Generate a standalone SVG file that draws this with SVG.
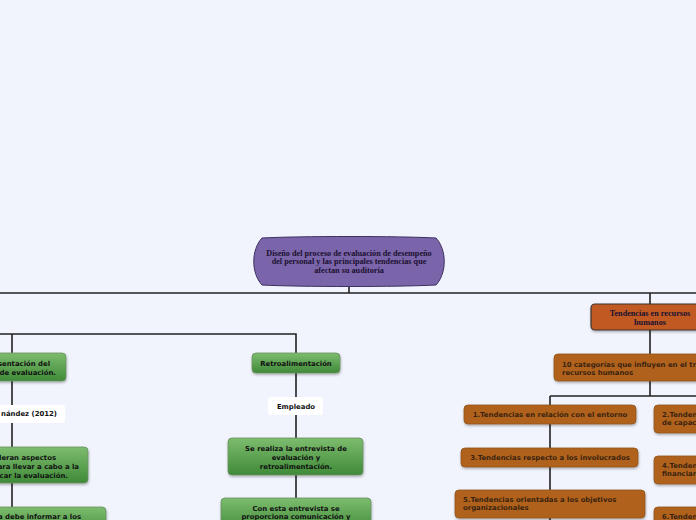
<svg xmlns="http://www.w3.org/2000/svg" width="696" height="520" viewBox="0 0 696 520">
<defs>
<linearGradient id="gGreen" x1="0" y1="0" x2="0" y2="1">
<stop offset="0" stop-color="#7dbc6e"/>
<stop offset="1" stop-color="#3f8a38"/>
</linearGradient>
<filter id="sh" x="-10%" y="-20%" width="120%" height="150%">
<feDropShadow dx="0.5" dy="1.5" stdDeviation="1" flood-color="#000" flood-opacity="0.3"/>
</filter>
</defs>
<style>
.bg{fill:#f1f4fd}
.con{fill:none;stroke:#222;stroke-width:1.6}
.green{fill:url(#gGreen);stroke:#6a8f62;stroke-width:0.8;filter:url(#sh)}
.brown{fill:#b0621f;stroke:#8f5320;stroke-width:0.8;filter:url(#sh)}
.label{fill:#fff}
.t{font-family:"DejaVu Sans",Verdana,sans-serif;font-weight:bold;font-size:6.9px;fill:#111}
.tb{font-family:"DejaVu Sans",Verdana,sans-serif;font-weight:bold;font-size:6.9px;fill:#3a2210}
.s{font-family:"Liberation Serif","Times New Roman",serif;font-weight:bold;font-size:8.2px;fill:#1a1030}
.c{text-anchor:middle}
.e{text-anchor:end}
</style>
<rect class="bg" x="0" y="0" width="696" height="520"/>

<g id="connectors">
<path class="con" d="M349,285 V293 M0,293 H696"/>
<path class="con" d="M0,334 H296 V353 M12,334 V353"/>
<path class="con" d="M12,381 V405 M12,423 V447 M12,483 V507"/>
<path class="con" d="M296,373 V397 M296,415 V438 M296,475 V498"/>
<path class="con" d="M650,293 V304 M650,330 V354 M650,381 V396 M550,396 H696 M550,396 V405"/>
<path class="con" d="M550,424 V448 M550,467 V490 M550,518 V520"/>
</g>

<g id="central">
<path d="M262,238 C300,236 398,236 436,238 C447,250 447,273 436,285 C398,287 300,287 262,285 C251,273 251,250 262,238 Z" fill="#7b65aa" stroke="#3d3060" stroke-width="1"/>
<text class="s c" x="349" y="255.5">Diseño del proceso de evaluación de desempeño</text>
<text class="s c" x="349" y="264.2">del personal y las principales tendencias que</text>
<text class="s c" x="349" y="272.9">afectan su auditoría</text>
</g>

<g id="n-presentacion">
<rect class="green" x="-30" y="353" width="96" height="28" rx="4"/>
<text class="t e" x="50" y="366">sentación del</text>
<text class="t e" x="56" y="375">de evaluación.</text>
</g>
<g id="l-hernandez">
<rect class="label" x="-20" y="405" width="85" height="18" rx="3"/>
<text class="t e" x="57" y="416">nández (2012)</text>
</g>
<g id="n-consideran">
<rect class="green" x="-30" y="447" width="118" height="36" rx="4"/>
<text class="t e" x="56" y="460">deran aspectos</text>
<text class="t e" x="79" y="469">ara llevar a cabo a la</text>
<text class="t e" x="68" y="478">car la evaluación.</text>
</g>
<g id="n-informar">
<rect class="green" x="-30" y="507" width="136" height="30" rx="4"/>
<text class="t e" x="81" y="519">a debe informar a los</text>
</g>

<g id="n-retro">
<rect class="green" x="252" y="353" width="88" height="20" rx="4"/>
<text class="t c" x="296" y="366">Retroalimentación</text>
</g>
<g id="l-empleado">
<rect class="label" x="268" y="397" width="55" height="18" rx="3"/>
<text class="t c" x="296" y="409">Empleado</text>
</g>
<g id="n-entrevista">
<rect class="green" x="228" y="438" width="135" height="37" rx="4"/>
<text class="t c" x="296" y="451">Se realiza la entrevista de</text>
<text class="t c" x="296" y="460">evaluación y</text>
<text class="t c" x="296" y="469">retroalimentación.</text>
</g>
<g id="n-comunicacion">
<rect class="green" x="221" y="498" width="150" height="34" rx="4"/>
<text class="t c" x="296" y="511">Con esta entrevista se</text>
<text class="t c" x="296" y="519">proporciona comunicación y</text>
</g>

<g id="n-tendencias">
<rect x="591" y="304" width="120" height="26" rx="4" fill="#c05a20" stroke="#3e3530" stroke-width="1.2" filter="url(#sh)"/>
<text class="s c" x="650" y="315.8" fill="#1a1010">Tendencias en recursos</text>
<text class="s c" x="650" y="324.5" fill="#1a1010">humanos</text>
</g>
<g id="n-categorias">
<rect class="brown" x="554" y="354" width="160" height="27" rx="4"/>
<text class="tb" x="562" y="367">10 categorías que influyen en el tr</text>
<text class="tb" x="562" y="375">recursos humanos</text>
</g>
<g id="n-t1">
<rect class="brown" x="464" y="405" width="172" height="19" rx="4"/>
<text class="tb c" x="550" y="417">1.Tendencias en relación con el entorno</text>
</g>
<g id="n-t2">
<rect class="brown" x="654" y="405" width="60" height="28" rx="4"/>
<text class="tb" x="662" y="417">2.Tenden</text>
<text class="tb" x="662" y="425">de capac</text>
</g>
<g id="n-t3">
<rect class="brown" x="461" y="448" width="177" height="19" rx="4"/>
<text class="tb c" x="550" y="460">3.Tendencias respecto a los involucrados</text>
</g>
<g id="n-t4">
<rect class="brown" x="654" y="456" width="60" height="28" rx="4"/>
<text class="tb" x="662" y="468">4.Tenden</text>
<text class="tb" x="662" y="476">financiar</text>
</g>
<g id="n-t5">
<rect class="brown" x="455" y="490" width="190" height="28" rx="4"/>
<text class="tb" x="463" y="502">5.Tendencias orientadas a los objetivos</text>
<text class="tb" x="463" y="510">organizacionales</text>
</g>
<g id="n-t6">
<rect class="brown" x="654" y="507" width="60" height="28" rx="4"/>
<text class="tb" x="662" y="519">6.Tenden</text>
</g>
</svg>
